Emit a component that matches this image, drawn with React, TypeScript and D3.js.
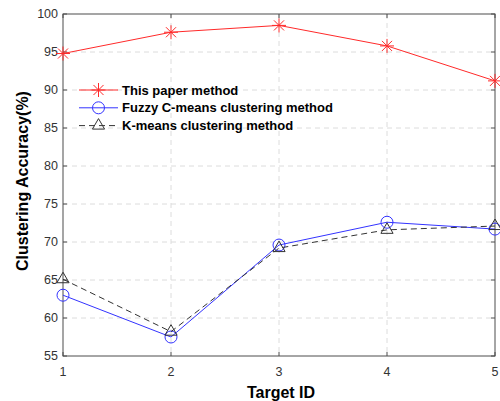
import React, { useEffect, useRef } from 'react';
import * as d3 from 'd3';

const targets = [1, 2, 3, 4, 5];
const ours = [94.8, 97.6, 98.5, 95.8, 91.2];
const fcm = [63.0, 57.5, 69.6, 72.6, 71.7];
const kmeans = [65.1, 58.2, 69.2, 71.6, 72.1];
const yTicks = [55, 60, 65, 70, 75, 80, 85, 90, 95, 100];
const seriesNames = ['This paper method', 'Fuzzy C-means clustering method', 'K-means clustering method'];

export default function App() {
    const ref = useRef<SVGSVGElement>(null);

    useEffect(() => {
        if (!ref.current) return;
        const svg = d3.select(ref.current);
        svg.selectAll('*').remove();

        const left = 63, right = 495, top = 14, bottom = 356;
        const x = d3.scaleLinear().domain([1, 5]).range([left, right]);
        const y = d3.scaleLinear().domain([55, 100]).range([bottom, top]);
        const font = 'Arial, "Liberation Sans", sans-serif';

        svg.append('rect').attr('width', 500).attr('height', 401).attr('fill', '#fff');

        // grid
        const grid = svg.append('g').attr('stroke', '#dcdcdc').attr('stroke-width', 1).attr('stroke-dasharray', '5,4');
        targets.slice(1, -1).forEach(t => {
            grid.append('line').attr('x1', x(t)).attr('x2', x(t)).attr('y1', top).attr('y2', bottom);
        });
        yTicks.slice(1, -1).forEach(v => {
            grid.append('line').attr('x1', left).attr('x2', right).attr('y1', y(v)).attr('y2', y(v));
        });

        // box
        svg.append('rect').attr('x', left).attr('y', top).attr('width', right - left).attr('height', bottom - top)
            .attr('fill', 'none').attr('stroke', '#4d4d4d').attr('stroke-width', 1);

        // ticks
        const tk = svg.append('g').attr('stroke', '#4d4d4d');
        yTicks.forEach(v => {
            tk.append('line').attr('x1', left).attr('x2', left + 4).attr('y1', y(v)).attr('y2', y(v));
            tk.append('line').attr('x1', right).attr('x2', right - 4).attr('y1', y(v)).attr('y2', y(v));
        });
        targets.forEach(t => {
            tk.append('line').attr('x1', x(t)).attr('x2', x(t)).attr('y1', bottom).attr('y2', bottom - 4);
            tk.append('line').attr('x1', x(t)).attr('x2', x(t)).attr('y1', top).attr('y2', top + 4);
        });

        const labels = svg.append('g').style('font-family', font).style('font-size', '12.5px').attr('fill', '#333');
        yTicks.forEach(v => {
            labels.append('text').attr('x', left - 5).attr('y', y(v)).attr('dy', '0.35em')
                .attr('text-anchor', 'end').text(v);
        });
        targets.forEach(t => {
            labels.append('text').attr('x', x(t)).attr('y', bottom + 16).attr('dy', '0.35em')
                .attr('text-anchor', 'middle').text(t);
        });

        svg.append('text').attr('x', 281).attr('y', 392).attr('dy', '0.35em').attr('text-anchor', 'middle')
            .style('font-family', font).style('font-size', '16px').style('font-weight', 'bold').attr('fill', '#000')
            .text('Target ID');
        svg.append('text').attr('transform', `translate(22,181) rotate(-90)`).attr('dy', '0.35em').attr('text-anchor', 'middle')
            .style('font-family', font).style('font-size', '16px').style('font-weight', 'bold').attr('fill', '#000')
            .text('Clustering Accuracy(%)');

        const line = d3.line<number>().x((_, i) => x(targets[i])).y(d => y(d));

        const star = (g: any, cx: number, cy: number, color: string) => {
            const r = 7;
            const s = g.append('g').attr('stroke', color).attr('stroke-width', 1);
            s.append('line').attr('x1', cx - r).attr('x2', cx + r).attr('y1', cy).attr('y2', cy);
            s.append('line').attr('x1', cx).attr('x2', cx).attr('y1', cy - r).attr('y2', cy + r);
            const d = r * 0.72;
            s.append('line').attr('x1', cx - d).attr('x2', cx + d).attr('y1', cy - d).attr('y2', cy + d);
            s.append('line').attr('x1', cx - d).attr('x2', cx + d).attr('y1', cy + d).attr('y2', cy - d);
        };
        const circle = (g: any, cx: number, cy: number, color: string) => {
            g.append('circle').attr('cx', cx).attr('cy', cy).attr('r', 6)
                .attr('fill', 'none').attr('stroke', color).attr('stroke-width', 1);
        };
        const tri = (g: any, cx: number, cy: number, color: string) => {
            const r = 7;
            g.append('path').attr('d', `M${cx},${cy - r}L${cx + r * 0.87},${cy + r * 0.5}L${cx - r * 0.87},${cy + r * 0.5}Z`)
                .attr('fill', 'none').attr('stroke', color).attr('stroke-width', 1);
        };

        const series = [
            { data: ours, color: '#ff2a2a', dash: null, marker: star },
            { data: fcm, color: '#3333ff', dash: null, marker: circle },
            { data: kmeans, color: '#333', dash: '6,4', marker: tri },
        ];

        const plot = svg.append('g');
        series.forEach(s => {
            plot.append('path').attr('d', line(s.data)).attr('fill', 'none').attr('stroke', s.color)
                .attr('stroke-width', 1).attr('stroke-dasharray', s.dash);
            s.data.forEach((v, i) => s.marker(plot, x(targets[i]), y(v), s.color));
        });

        // legend
        const lg = svg.append('g');
        series.forEach((s, i) => {
            const ly = 90 + i * 17.8;
            lg.append('line').attr('x1', 79).attr('x2', 118).attr('y1', ly).attr('y2', ly)
                .attr('stroke', s.color).attr('stroke-width', 1).attr('stroke-dasharray', s.dash);
            s.marker(lg, 98.5, ly, s.color);
            lg.append('text').attr('x', 122).attr('y', ly).attr('dy', '0.35em')
                .style('font-family', font).style('font-size', '13px').style('font-weight', 'bold')
                .attr('fill', '#000').text(seriesNames[i]);
        });
    }, []);

    return <svg ref={ref} width={500} height={401} style={{ display: 'block', position: 'absolute', left: 0, top: 0 }} />;
}
